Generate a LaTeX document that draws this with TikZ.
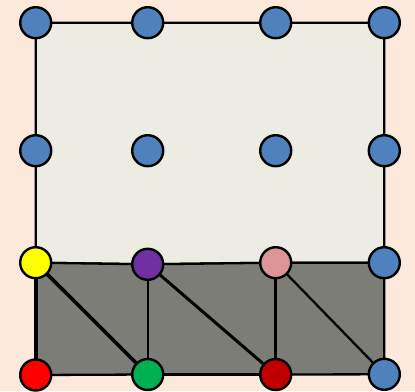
\documentclass[tikz,border=0pt]{standalone}
\definecolor{bgpeach}{RGB}{253,233,220}
\definecolor{lightfill}{RGB}{237,236,226}
\definecolor{darkfill}{RGB}{125,125,119}
\definecolor{ptblue}{RGB}{79,129,189}
\definecolor{ptyellow}{RGB}{255,255,0}
\definecolor{ptpurple}{RGB}{112,48,160}
\definecolor{ptpink}{RGB}{217,150,148}
\definecolor{ptred}{RGB}{255,0,0}
\definecolor{ptgreen}{RGB}{0,176,80}
\definecolor{ptdarkred}{RGB}{192,0,0}
\begin{document}
\begin{tikzpicture}[x=1pt,y=-1pt,
  pt/.style={circle,draw=black,line width=2.4pt,minimum size=31pt,inner sep=0pt},
  edge/.style={line width=2.3pt,line join=round},
  thick edge/.style={line width=3.6pt,line join=round}]
\fill[bgpeach] (0,0) rectangle (415,391);
\useasboundingbox (0,0) rectangle (415,391);
% grid coordinates
\coordinate (p11) at (35.7,22.7);
\coordinate (p12) at (147.7,22.7);
\coordinate (p13) at (275.7,22.7);
\coordinate (p14) at (384.3,22.7);
\coordinate (p21) at (35.7,150.7);
\coordinate (p22) at (147.7,150.7);
\coordinate (p23) at (275.7,150.7);
\coordinate (p24) at (384.3,150.7);
\coordinate (p31) at (35.7,262.7);
\coordinate (p32) at (147.7,264.3);
\coordinate (p33) at (275.7,262.7);
\coordinate (p34) at (384.3,262.7);
\coordinate (p41) at (35.7,375);
\coordinate (p42) at (147.7,374.5);
\coordinate (p43) at (275.7,374.5);
\coordinate (p44) at (384.3,374.3);
% light area
\filldraw[fill=lightfill,edge] (p11) -- (p14) -- (p34) -- (p33) -- (p32) -- (p31) -- cycle;
% dark area
\fill[darkfill] (p31) -- (p32) -- (p33) -- (p34) -- (p44) -- (p43) -- (p42) -- (p41) -- cycle;
\draw[edge] (p31) -- (p32) -- (p33) -- (p34) -- (p44) -- (p43);
\draw[edge] (p41) -- (p42);
\draw[thick edge] (p42) -- (p43);
\draw[thick edge] (p31) -- (p41);
\draw[thick edge] (p31) -- (p42);
\draw[edge] (p32) -- (p42);
\draw[line width=3pt] (p32) -- (p43);
\draw[line width=3.2pt] (p33) -- (p43);
\draw[edge] (p33) -- (p44);
% nodes
\node[pt,fill=ptblue] (n11) at (p11) {};
\node[pt,fill=ptblue] (n12) at (p12) {};
\node[pt,fill=ptblue] (n13) at (p13) {};
\node[pt,fill=ptblue] (n14) at (p14) {};
\node[pt,fill=ptblue] (n21) at (p21) {};
\node[pt,fill=ptblue] (n22) at (p22) {};
\node[pt,fill=ptblue] (n23) at (p23) {};
\node[pt,fill=ptblue] (n24) at (p24) {};
\node[pt,fill=ptyellow] (n31) at (p31) {};
\node[pt,fill=ptpurple] (n32) at (p32) {};
\node[pt,fill=ptpink] (n33) at (p33) {};
\node[pt,fill=ptblue] (n34) at (p34) {};
\node[pt,fill=ptred] (n41) at (p41) {};
\node[pt,fill=ptgreen] (n42) at (p42) {};
\node[pt,fill=ptdarkred] (n43) at (p43) {};
\node[pt,fill=ptblue] (n44) at (p44) {};
\end{tikzpicture}
\end{document}
